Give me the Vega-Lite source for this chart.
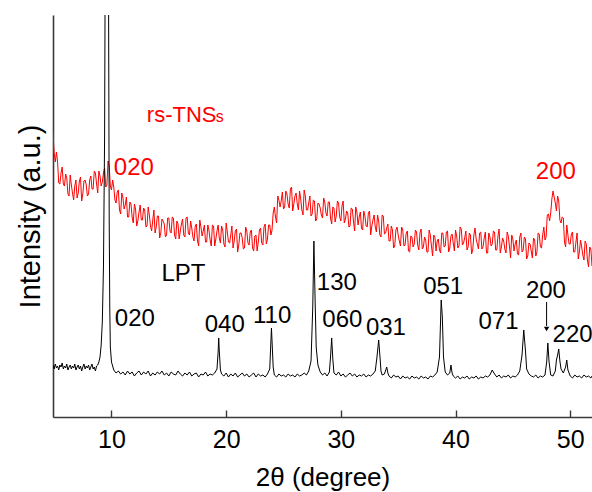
{
  "$schema": "https://vega.github.io/schema/vega-lite/v6.json",
  "width": 539,
  "height": 402,
  "autosize": "none",
  "padding": {"left": 53, "top": 15, "right": 0, "bottom": 75},
  "background": "white",
  "config": {
    "view": {"stroke": null},
    "font": "Liberation Sans",
    "axis": {"grid": false, "domainColor": "#3a3a3a", "domainWidth": 1.6, "labelFont": "Liberation Sans", "titleFont": "Liberation Sans", "titleFontWeight": "normal", "labelColor": "#000", "titleColor": "#000"}
  },
  "datasets": {
    "lpt": [
      {"deg":4.9,"int":52},{"deg":5.0,"int":48},{"deg":5.1,"int":53},{"deg":5.2,"int":49},{"deg":5.3,"int":51},{"deg":5.4,"int":47},{"deg":5.5,"int":52},{"deg":5.6,"int":50},{"deg":5.7,"int":54},{"deg":5.8,"int":48},{"deg":5.9,"int":51},{"deg":6.0,"int":49},{"deg":6.1,"int":53},{"deg":6.2,"int":47},{"deg":6.3,"int":50},{"deg":6.4,"int":52},{"deg":6.5,"int":48},{"deg":6.6,"int":51},{"deg":6.7,"int":49},{"deg":6.8,"int":53},{"deg":6.9,"int":47},{"deg":7.0,"int":50},{"deg":7.1,"int":52},{"deg":7.2,"int":48},{"deg":7.3,"int":51},{"deg":7.4,"int":46},{"deg":7.5,"int":50},{"deg":7.6,"int":53},{"deg":7.7,"int":48},{"deg":7.8,"int":51},{"deg":7.9,"int":49},{"deg":8.0,"int":52},{"deg":8.1,"int":47},{"deg":8.2,"int":50},{"deg":8.3,"int":53},{"deg":8.4,"int":48},{"deg":8.5,"int":50},{"deg":8.6,"int":46},{"deg":8.7,"int":51},{"deg":8.8,"int":52},{"deg":8.9,"int":55},{"deg":9.0,"int":60},{"deg":9.1,"int":72},{"deg":9.2,"int":95},{"deg":9.3,"int":150},{"deg":9.4,"int":280},{"deg":9.45,"int":450},{"deg":9.5,"int":700},{"deg":9.6,"int":760},{"deg":9.7,"int":620},{"deg":9.75,"int":400},{"deg":9.8,"int":200},{"deg":9.85,"int":110},{"deg":9.9,"int":70},{"deg":10.0,"int":55},
      {"deg":10.2,"int":47},{"deg":10.4,"int":44},{"deg":10.6,"int":46},{"deg":10.8,"int":43},{"deg":11.0,"int":45},{"deg":11.2,"int":42},{"deg":11.4,"int":46},{"deg":11.6,"int":43},{"deg":11.8,"int":45},{"deg":12.0,"int":41},{"deg":12.2,"int":44},{"deg":12.4,"int":46},{"deg":12.6,"int":42},{"deg":12.8,"int":45},{"deg":13.0,"int":43},{"deg":13.2,"int":46},{"deg":13.4,"int":41},{"deg":13.6,"int":44},{"deg":13.8,"int":42},{"deg":14.0,"int":45},{"deg":14.2,"int":43},{"deg":14.4,"int":46},{"deg":14.6,"int":42},{"deg":14.8,"int":44},{"deg":15.0,"int":41},{"deg":15.2,"int":45},{"deg":15.4,"int":43},{"deg":15.6,"int":42},{"deg":15.8,"int":46},{"deg":16.0,"int":43},{"deg":16.2,"int":41},{"deg":16.4,"int":44},{"deg":16.6,"int":42},{"deg":16.8,"int":45},{"deg":17.0,"int":41},{"deg":17.2,"int":43},{"deg":17.4,"int":44},{"deg":17.6,"int":40},{"deg":17.8,"int":43},{"deg":18.0,"int":42},{"deg":18.2,"int":45},{"deg":18.4,"int":41},{"deg":18.6,"int":43},{"deg":18.8,"int":42},{"deg":19.0,"int":44},{"deg":19.2,"int":48},{"deg":19.3,"int":65},{"deg":19.35,"int":79},{"deg":19.4,"int":66},{"deg":19.5,"int":47},{"deg":19.6,"int":43},{"deg":19.8,"int":41},{"deg":20.0,"int":44},{"deg":20.2,"int":40},{"deg":20.4,"int":43},{"deg":20.6,"int":41},{"deg":20.8,"int":44},{"deg":21.0,"int":40},{"deg":21.2,"int":42},{"deg":21.4,"int":44},{"deg":21.6,"int":41},{"deg":21.8,"int":43},{"deg":22.0,"int":40},{"deg":22.2,"int":42},{"deg":22.4,"int":44},{"deg":22.6,"int":40},{"deg":22.8,"int":43},{"deg":23.0,"int":41},{"deg":23.2,"int":42},{"deg":23.4,"int":40},{"deg":23.6,"int":43},{"deg":23.8,"int":48},{"deg":23.95,"int":89},{"deg":24.1,"int":50},{"deg":24.2,"int":42},{"deg":24.4,"int":40},{"deg":24.6,"int":43},{"deg":24.8,"int":41},{"deg":25.0,"int":42},{"deg":25.2,"int":40},{"deg":25.4,"int":43},{"deg":25.6,"int":41},{"deg":25.8,"int":42},{"deg":26.0,"int":40},{"deg":26.2,"int":43},{"deg":26.4,"int":41},{"deg":26.6,"int":42},{"deg":26.8,"int":44},{"deg":27.0,"int":42},{"deg":27.2,"int":46},{"deg":27.4,"int":56},{"deg":27.55,"int":110},{"deg":27.65,"int":176},{"deg":27.75,"int":120},{"deg":27.85,"int":70},{"deg":28.0,"int":52},{"deg":28.2,"int":45},{"deg":28.4,"int":42},{"deg":28.6,"int":44},{"deg":28.8,"int":41},{"deg":29.0,"int":45},{"deg":29.1,"int":60},{"deg":29.2,"int":79},{"deg":29.3,"int":58},{"deg":29.4,"int":44},{"deg":29.6,"int":42},{"deg":29.8,"int":45},{"deg":30.0,"int":41},{"deg":30.2,"int":43},{"deg":30.4,"int":40},{"deg":30.6,"int":42},{"deg":30.8,"int":44},{"deg":31.0,"int":41},{"deg":31.2,"int":43},{"deg":31.4,"int":40},{"deg":31.6,"int":42},{"deg":31.8,"int":41},{"deg":32.0,"int":43},{"deg":32.2,"int":40},{"deg":32.4,"int":42},{"deg":32.6,"int":41},{"deg":32.8,"int":43},{"deg":33.0,"int":46},{"deg":33.15,"int":60},{"deg":33.3,"int":77},{"deg":33.4,"int":62},{"deg":33.5,"int":46},{"deg":33.6,"int":42},{"deg":33.8,"int":43},{"deg":34.0,"int":50},{"deg":34.1,"int":44},{"deg":34.2,"int":41},{"deg":34.4,"int":39},{"deg":34.6,"int":42},{"deg":34.8,"int":40},{"deg":35.0,"int":41},{"deg":35.2,"int":38},{"deg":35.4,"int":41},{"deg":35.6,"int":39},{"deg":35.8,"int":40},{"deg":36.0,"int":38},{"deg":36.2,"int":41},{"deg":36.4,"int":39},{"deg":36.6,"int":40},{"deg":36.8,"int":38},{"deg":37.0,"int":41},{"deg":37.2,"int":39},{"deg":37.4,"int":40},{"deg":37.6,"int":38},{"deg":37.8,"int":41},{"deg":38.0,"int":40},{"deg":38.2,"int":42},{"deg":38.4,"int":45},{"deg":38.6,"int":60},{"deg":38.75,"int":117},{"deg":38.85,"int":100},{"deg":38.95,"int":60},{"deg":39.1,"int":45},{"deg":39.3,"int":42},{"deg":39.5,"int":44},{"deg":39.6,"int":52},{"deg":39.7,"int":44},{"deg":39.8,"int":41},{"deg":40.0,"int":39},{"deg":40.2,"int":41},{"deg":40.4,"int":38},{"deg":40.6,"int":40},{"deg":40.8,"int":39},{"deg":41.0,"int":41},{"deg":41.2,"int":38},{"deg":41.4,"int":40},{"deg":41.6,"int":39},{"deg":41.8,"int":41},{"deg":42.0,"int":38},{"deg":42.2,"int":40},{"deg":42.4,"int":39},{"deg":42.6,"int":41},{"deg":42.8,"int":40},{"deg":43.0,"int":42},{"deg":43.2,"int":47},{"deg":43.4,"int":43},{"deg":43.6,"int":40},{"deg":43.8,"int":42},{"deg":44.0,"int":39},{"deg":44.2,"int":41},{"deg":44.4,"int":40},{"deg":44.6,"int":42},{"deg":44.8,"int":39},{"deg":45.0,"int":41},{"deg":45.2,"int":40},{"deg":45.4,"int":42},{"deg":45.6,"int":46},{"deg":45.8,"int":62},{"deg":45.95,"int":87},{"deg":46.1,"int":66},{"deg":46.2,"int":48},{"deg":46.4,"int":43},{"deg":46.6,"int":41},{"deg":46.8,"int":40},{"deg":47.0,"int":42},{"deg":47.2,"int":39},{"deg":47.4,"int":41},{"deg":47.6,"int":40},{"deg":47.8,"int":42},{"deg":47.95,"int":55},{"deg":48.05,"int":74},{"deg":48.15,"int":56},{"deg":48.3,"int":42},{"deg":48.5,"int":41},{"deg":48.7,"int":46},{"deg":48.8,"int":57},{"deg":48.9,"int":62},{"deg":49.0,"int":68},{"deg":49.1,"int":56},{"deg":49.2,"int":48},{"deg":49.4,"int":44},{"deg":49.6,"int":50},{"deg":49.7,"int":57},{"deg":49.8,"int":47},{"deg":50.0,"int":41},{"deg":50.2,"int":39},{"deg":50.4,"int":42},{"deg":50.6,"int":40},{"deg":50.8,"int":41},{"deg":51.0,"int":39},{"deg":51.2,"int":42},{"deg":51.4,"int":40},{"deg":51.6,"int":41},{"deg":51.8,"int":39},{"deg":51.9,"int":41}
    ],
    "rs": [
      {"deg":4.9,"int":284},{"deg":5.1,"int":255},{"deg":5.3,"int":255},{"deg":5.5,"int":233},{"deg":5.7,"int":250},{"deg":5.9,"int":231},{"deg":6.1,"int":239},{"deg":6.3,"int":221},{"deg":6.5,"int":232},{"deg":6.7,"int":217},{"deg":6.9,"int":237},{"deg":7.1,"int":224},{"deg":7.3,"int":240},{"deg":7.5,"int":223},{"deg":7.7,"int":237},{"deg":7.9,"int":221},{"deg":8.1,"int":237},{"deg":8.3,"int":228},{"deg":8.5,"int":246},{"deg":8.7,"int":233},{"deg":8.9,"int":246},{"deg":9.1,"int":231},{"deg":9.3,"int":244},{"deg":9.5,"int":230},{"deg":9.7,"int":256},{"deg":9.9,"int":231},
      {"deg":10.1,"int":237},{"deg":10.3,"int":217},{"deg":10.5,"int":225},{"deg":10.7,"int":207},{"deg":10.9,"int":224},{"deg":11.1,"int":208},{"deg":11.3,"int":220},{"deg":11.5,"int":200},{"deg":11.7,"int":213},{"deg":11.9,"int":194},{"deg":12.1,"int":208},{"deg":12.3,"int":196},{"deg":12.5,"int":212},{"deg":12.7,"int":197},{"deg":12.9,"int":207},{"deg":13.1,"int":191},{"deg":13.3,"int":202},{"deg":13.5,"int":186},{"deg":13.7,"int":207},{"deg":13.9,"int":190},{"deg":14.1,"int":201},{"deg":14.3,"int":184},{"deg":14.5,"int":196},{"deg":14.7,"int":180},{"deg":14.9,"int":199},{"deg":15.1,"int":186},{"deg":15.3,"int":200},{"deg":15.5,"int":182},{"deg":15.7,"int":196},{"deg":15.9,"int":178},{"deg":16.1,"int":193},{"deg":16.3,"int":182},{"deg":16.5,"int":199},{"deg":16.7,"int":184},{"deg":16.9,"int":196},{"deg":17.1,"int":180},{"deg":17.3,"int":191},{"deg":17.5,"int":176},{"deg":17.7,"int":197},{"deg":17.9,"int":181},{"deg":18.1,"int":192},{"deg":18.3,"int":175},{"deg":18.5,"int":187},{"deg":18.7,"int":171},{"deg":18.9,"int":191},{"deg":19.1,"int":178},{"deg":19.3,"int":192},{"deg":19.5,"int":174},{"deg":19.7,"int":187},{"deg":19.9,"int":170},
      {"deg":20.1,"int":185},{"deg":20.3,"int":174},{"deg":20.5,"int":191},{"deg":20.7,"int":176},{"deg":20.9,"int":188},{"deg":21.1,"int":172},{"deg":21.3,"int":184},{"deg":21.5,"int":168},{"deg":21.7,"int":190},{"deg":21.9,"int":174},{"deg":22.1,"int":185},{"deg":22.3,"int":169},{"deg":22.5,"int":181},{"deg":22.7,"int":166},{"deg":22.9,"int":187},{"deg":23.1,"int":174},{"deg":23.3,"int":190},{"deg":23.5,"int":173},{"deg":23.7,"int":192},{"deg":23.9,"int":182},{"deg":24.1,"int":204},{"deg":24.3,"int":200},{"deg":24.5,"int":221},{"deg":24.7,"int":210},{"deg":24.9,"int":225},{"deg":25.1,"int":210},{"deg":25.3,"int":223},{"deg":25.5,"int":209},{"deg":25.7,"int":230},{"deg":25.9,"int":213},{"deg":26.1,"int":224},{"deg":26.3,"int":207},{"deg":26.5,"int":218},{"deg":26.7,"int":202},{"deg":26.9,"int":221},{"deg":27.1,"int":207},{"deg":27.3,"int":221},{"deg":27.5,"int":203},{"deg":27.7,"int":216},{"deg":27.9,"int":198},{"deg":28.1,"int":213},{"deg":28.3,"int":202},{"deg":28.5,"int":219},{"deg":28.7,"int":204},{"deg":28.9,"int":215},{"deg":29.1,"int":199},{"deg":29.3,"int":210},{"deg":29.5,"int":195},{"deg":29.7,"int":216},{"deg":29.9,"int":200},
      {"deg":30.1,"int":211},{"deg":30.3,"int":194},{"deg":30.5,"int":206},{"deg":30.7,"int":190},{"deg":30.9,"int":209},{"deg":31.1,"int":196},{"deg":31.3,"int":210},{"deg":31.5,"int":192},{"deg":31.7,"int":205},{"deg":31.9,"int":187},{"deg":32.1,"int":201},{"deg":32.3,"int":190},{"deg":32.5,"int":206},{"deg":32.7,"int":191},{"deg":32.9,"int":202},{"deg":33.1,"int":185},{"deg":33.3,"int":196},{"deg":33.5,"int":180},{"deg":33.7,"int":201},{"deg":33.9,"int":184},{"deg":34.1,"int":193},{"deg":34.3,"int":176},{"deg":34.5,"int":187},{"deg":34.7,"int":171},{"deg":34.9,"int":190},{"deg":35.1,"int":176},{"deg":35.3,"int":190},{"deg":35.5,"int":171},{"deg":35.7,"int":184},{"deg":35.9,"int":166},{"deg":36.1,"int":181},{"deg":36.3,"int":170},{"deg":36.5,"int":187},{"deg":36.7,"int":172},{"deg":36.9,"int":184},{"deg":37.1,"int":168},{"deg":37.3,"int":180},{"deg":37.5,"int":165},{"deg":37.7,"int":187},{"deg":37.9,"int":171},{"deg":38.1,"int":182},{"deg":38.3,"int":166},{"deg":38.5,"int":178},{"deg":38.7,"int":164},{"deg":38.9,"int":184},{"deg":39.1,"int":171},{"deg":39.3,"int":186},{"deg":39.5,"int":169},{"deg":39.7,"int":183},{"deg":39.9,"int":166},
      {"deg":40.1,"int":181},{"deg":40.3,"int":171},{"deg":40.5,"int":188},{"deg":40.7,"int":174},{"deg":40.9,"int":186},{"deg":41.1,"int":170},{"deg":41.3,"int":182},{"deg":41.5,"int":167},{"deg":41.7,"int":189},{"deg":41.9,"int":173},{"deg":42.1,"int":184},{"deg":42.3,"int":168},{"deg":42.5,"int":179},{"deg":42.7,"int":164},{"deg":42.9,"int":184},{"deg":43.1,"int":171},{"deg":43.3,"int":186},{"deg":43.5,"int":167},{"deg":43.7,"int":181},{"deg":43.9,"int":164},{"deg":44.1,"int":179},{"deg":44.3,"int":168},{"deg":44.5,"int":185},{"deg":44.7,"int":171},{"deg":44.9,"int":182},{"deg":45.1,"int":166},{"deg":45.3,"int":177},{"deg":45.5,"int":162},{"deg":45.7,"int":184},{"deg":45.9,"int":167},{"deg":46.1,"int":178},{"deg":46.3,"int":161},{"deg":46.5,"int":173},{"deg":46.7,"int":159},{"deg":46.9,"int":177},{"deg":47.1,"int":165},{"deg":47.3,"int":183},{"deg":47.5,"int":169},{"deg":47.7,"int":190},{"deg":47.9,"int":180},{"deg":48.1,"int":203},{"deg":48.3,"int":204},{"deg":48.5,"int":226},{"deg":48.7,"int":214},{"deg":48.9,"int":221},{"deg":49.1,"int":197},{"deg":49.3,"int":200},{"deg":49.5,"int":175},{"deg":49.7,"int":192},{"deg":49.9,"int":173},
      {"deg":50.1,"int":183},{"deg":50.3,"int":165},{"deg":50.5,"int":175},{"deg":50.7,"int":158},{"deg":50.9,"int":177},{"deg":51.1,"int":162},{"deg":51.3,"int":176},{"deg":51.5,"int":157},{"deg":51.7,"int":170},{"deg":51.9,"int":151},
      {"deg":5.0,"int":264},{"deg":5.2,"int":265},{"deg":5.4,"int":234},{"deg":5.6,"int":244},{"deg":5.8,"int":233},{"deg":6.0,"int":243},{"deg":6.2,"int":223},{"deg":6.4,"int":242},{"deg":6.6,"int":224},{"deg":6.8,"int":231},{"deg":7.0,"int":219},{"deg":7.2,"int":236},{"deg":7.4,"int":216},{"deg":7.6,"int":236},{"deg":7.8,"int":232},{"deg":8.0,"int":223},{"deg":8.2,"int":241},{"deg":8.4,"int":228},{"deg":8.6,"int":244},{"deg":8.8,"int":224},{"deg":9.0,"int":241},{"deg":9.2,"int":235},{"deg":9.4,"int":249},{"deg":9.6,"int":232},{"deg":9.8,"int":251},{"deg":10.0,"int":227},
      {"deg":10.2,"int":230},{"deg":10.4,"int":214},{"deg":10.6,"int":227},{"deg":10.8,"int":203},{"deg":11.0,"int":219},{"deg":11.2,"int":212},{"deg":11.4,"int":200},{"deg":11.6,"int":215},{"deg":11.8,"int":200},{"deg":12.0,"int":213},{"deg":12.2,"int":191},{"deg":12.4,"int":205},{"deg":12.6,"int":197},{"deg":12.8,"int":209},{"deg":13.0,"int":190},{"deg":13.2,"int":210},{"deg":13.4,"int":191},{"deg":13.6,"int":197},{"deg":13.8,"int":184},{"deg":14.0,"int":201},{"deg":14.2,"int":179},{"deg":14.4,"int":198},{"deg":14.6,"int":193},{"deg":14.8,"int":182},{"deg":15.0,"int":199},{"deg":15.2,"int":184},{"deg":15.4,"int":199},{"deg":15.6,"int":178},{"deg":15.8,"int":193},{"deg":16.0,"int":186},{"deg":16.2,"int":198},{"deg":16.4,"int":180},{"deg":16.6,"int":200},{"deg":16.8,"int":182},{"deg":17.0,"int":189},{"deg":17.2,"int":176},{"deg":17.4,"int":193},{"deg":17.6,"int":171},{"deg":17.8,"int":190},{"deg":18.0,"int":186},{"deg":18.2,"int":175},{"deg":18.4,"int":192},{"deg":18.6,"int":177},{"deg":18.8,"int":192},{"deg":19.0,"int":171},{"deg":19.2,"int":186},{"deg":19.4,"int":179},{"deg":19.6,"int":191},{"deg":19.8,"int":173},{"deg":20.0,"int":194},
      {"deg":20.2,"int":175},{"deg":20.4,"int":182},{"deg":20.6,"int":169},{"deg":20.8,"int":186},{"deg":21.0,"int":165},{"deg":21.2,"int":184},{"deg":21.4,"int":179},{"deg":21.6,"int":169},{"deg":21.8,"int":186},{"deg":22.0,"int":172},{"deg":22.2,"int":187},{"deg":22.4,"int":166},{"deg":22.6,"int":182},{"deg":22.8,"int":175},{"deg":23.0,"int":189},{"deg":23.2,"int":172},{"deg":23.4,"int":193},{"deg":23.6,"int":178},{"deg":23.8,"int":192},{"deg":24.0,"int":187},{"deg":24.2,"int":210},{"deg":24.4,"int":194},{"deg":24.6,"int":217},{"deg":24.8,"int":216},{"deg":25.0,"int":208},{"deg":25.2,"int":226},{"deg":25.4,"int":213},{"deg":25.6,"int":228},{"deg":25.8,"int":206},{"deg":26.0,"int":221},{"deg":26.2,"int":213},{"deg":26.4,"int":226},{"deg":26.6,"int":207},{"deg":26.8,"int":227},{"deg":27.0,"int":207},{"deg":27.2,"int":214},{"deg":27.4,"int":201},{"deg":27.6,"int":217},{"deg":27.8,"int":196},{"deg":28.0,"int":214},{"deg":28.2,"int":209},{"deg":28.4,"int":199},{"deg":28.6,"int":215},{"deg":28.8,"int":201},{"deg":29.0,"int":215},{"deg":29.2,"int":193},{"deg":29.4,"int":209},{"deg":29.6,"int":201},{"deg":29.8,"int":214},{"deg":30.0,"int":196},
      {"deg":30.2,"int":216},{"deg":30.4,"int":198},{"deg":30.6,"int":204},{"deg":30.8,"int":191},{"deg":31.0,"int":208},{"deg":31.2,"int":186},{"deg":31.4,"int":205},{"deg":31.6,"int":200},{"deg":31.8,"int":189},{"deg":32.0,"int":206},{"deg":32.2,"int":191},{"deg":32.4,"int":204},{"deg":32.6,"int":182},{"deg":32.8,"int":197},{"deg":33.0,"int":190},{"deg":33.2,"int":202},{"deg":33.4,"int":182},{"deg":33.6,"int":202},{"deg":33.8,"int":183},{"deg":34.0,"int":189},{"deg":34.2,"int":176},{"deg":34.4,"int":191},{"deg":34.6,"int":169},{"deg":34.8,"int":187},{"deg":35.0,"int":182},{"deg":35.2,"int":171},{"deg":35.4,"int":187},{"deg":35.6,"int":172},{"deg":35.8,"int":186},{"deg":36.0,"int":165},{"deg":36.2,"int":180},{"deg":36.4,"int":173},{"deg":36.6,"int":185},{"deg":36.8,"int":167},{"deg":37.0,"int":188},{"deg":37.2,"int":170},{"deg":37.4,"int":177},{"deg":37.6,"int":165},{"deg":37.8,"int":182},{"deg":38.0,"int":161},{"deg":38.2,"int":180},{"deg":38.4,"int":176},{"deg":38.6,"int":167},{"deg":38.8,"int":184},{"deg":39.0,"int":170},{"deg":39.2,"int":185},{"deg":39.4,"int":165},{"deg":39.6,"int":181},{"deg":39.8,"int":174},{"deg":40.0,"int":187},
      {"deg":40.2,"int":169},{"deg":40.4,"int":190},{"deg":40.6,"int":172},{"deg":40.8,"int":179},{"deg":41.0,"int":167},{"deg":41.2,"int":184},{"deg":41.4,"int":163},{"deg":41.6,"int":182},{"deg":41.8,"int":178},{"deg":42.0,"int":168},{"deg":42.2,"int":185},{"deg":42.4,"int":170},{"deg":42.6,"int":185},{"deg":42.8,"int":164},{"deg":43.0,"int":180},{"deg":43.2,"int":173},{"deg":43.4,"int":185},{"deg":43.6,"int":167},{"deg":43.8,"int":188},{"deg":44.0,"int":170},{"deg":44.2,"int":176},{"deg":44.4,"int":164},{"deg":44.6,"int":181},{"deg":44.8,"int":159},{"deg":45.0,"int":178},{"deg":45.2,"int":173},{"deg":45.4,"int":163},{"deg":45.6,"int":180},{"deg":45.8,"int":165},{"deg":46.0,"int":180},{"deg":46.2,"int":158},{"deg":46.4,"int":174},{"deg":46.6,"int":166},{"deg":46.8,"int":179},{"deg":47.0,"int":161},{"deg":47.2,"int":184},{"deg":47.4,"int":170},{"deg":47.6,"int":182},{"deg":47.8,"int":177},{"deg":48.0,"int":202},{"deg":48.2,"int":196},{"deg":48.4,"int":218},{"deg":48.6,"int":220},{"deg":48.8,"int":206},{"deg":49.0,"int":216},{"deg":49.2,"int":194},{"deg":49.4,"int":199},{"deg":49.6,"int":170},{"deg":49.8,"int":182},{"deg":50.0,"int":173},
      {"deg":50.2,"int":185},{"deg":50.4,"int":165},{"deg":50.6,"int":184},{"deg":50.8,"int":165},{"deg":51.0,"int":170},{"deg":51.2,"int":157},{"deg":51.4,"int":173},{"deg":51.6,"int":150},{"deg":51.8,"int":168}
    ],
    "lptLabels": [
      {"deg":12.04,"int":91,"label":"020"},{"deg":19.88,"int":85,"label":"040"},{"deg":24.01,"int":94,"label":"110"},{"deg":29.65,"int":127,"label":"130"},{"deg":30.13,"int":90,"label":"060"},{"deg":33.93,"int":82,"label":"031"},{"deg":38.92,"int":123,"label":"051"},{"deg":43.75,"int":88,"label":"071"},{"deg":47.88,"int":119,"label":"200"},{"deg":50.21,"int":75,"label":"220"},{"deg":16.28,"int":136,"label":"LPT"}
    ],
    "rsLabels": [
      {"deg":11.95,"int":242,"label":"020"},{"deg":48.75,"int":238,"label":"200"}
    ],
    "rsName": [{"deg":13.08,"int":295,"label":"rs-TNS"}],
    "rsSub": [{"deg":19.1,"int":295,"label":"s"}],
    "arrow": [{"deg":47.94,"top":115,"bottom":91,"tip":88}]
  },
  "encoding": {
    "x": {"field": "deg", "type": "quantitative", "scale": {"domain": [4.9, 51.9], "nice": false, "zero": false},
      "axis": {"values": [10, 20, 30, 40, 50], "title": "2θ (degree)", "tickSize": -7, "tickColor": "#3a3a3a", "tickWidth": 1.4, "labelFontSize": 25, "labelPadding": 17, "titleFontSize": 26, "titlePadding": 12, "labelFlush": false}},
    "y": {"field": "int", "type": "quantitative", "scale": {"domain": [0, 402], "nice": false, "zero": false},
      "axis": {"ticks": false, "labels": false, "title": "Intensity (a.u.)", "titleFontSize": 29, "titlePadding": 8}}
  },
  "layer": [
    {"data": {"name": "rs"}, "mark": {"type": "line", "color": "#ff0000", "strokeWidth": 1, "clip": true}},
    {"data": {"name": "lpt"}, "mark": {"type": "line", "color": "#000000", "strokeWidth": 1, "clip": true}},
    {"data": {"name": "lptLabels"}, "mark": {"type": "text", "align": "center", "baseline": "alphabetic", "fontSize": 24, "color": "#000"}, "encoding": {"text": {"field": "label"}}},
    {"data": {"name": "rsLabels"}, "mark": {"type": "text", "align": "center", "baseline": "alphabetic", "fontSize": 24, "color": "#ff0000"}, "encoding": {"text": {"field": "label"}}},
    {"data": {"name": "rsName"}, "mark": {"type": "text", "align": "left", "baseline": "alphabetic", "fontSize": 22, "color": "#ff0000"}, "encoding": {"text": {"field": "label"}}},
    {"data": {"name": "rsSub"}, "mark": {"type": "text", "align": "left", "baseline": "alphabetic", "fontSize": 16, "color": "#ff0000"}, "encoding": {"text": {"field": "label"}}},
    {"data": {"name": "arrow"}, "mark": {"type": "rule", "color": "#000", "strokeWidth": 1}, "encoding": {"y": {"field": "top", "type": "quantitative"}, "y2": {"field": "bottom"}}},
    {"data": {"name": "arrow"}, "mark": {"type": "point", "shape": "triangle-down", "filled": true, "size": 30, "color": "#000", "opacity": 1}, "encoding": {"y": {"field": "tip", "type": "quantitative"}}},
    {"data": {"values": [{"top": 402}]}, "mark": {"type": "rule", "color": "#3a3a3a", "strokeWidth": 1.6}, "encoding": {"y": {"field": "top", "type": "quantitative"}, "x": {"datum": 4.9}, "x2": {"datum": 51.9}}}
  ]
}
